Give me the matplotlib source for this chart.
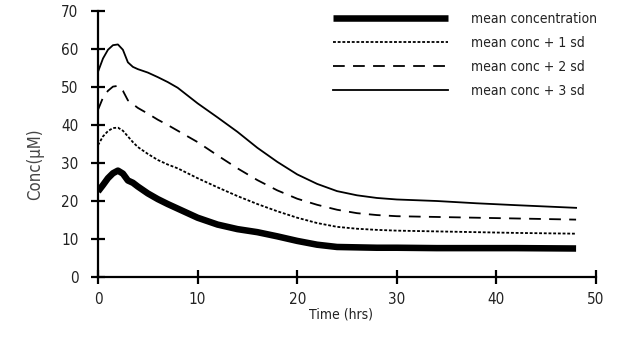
import matplotlib
matplotlib.use('Agg')
import matplotlib.pyplot as plt

# Data
time_hrs = [0, 0.5, 1, 1.5, 2, 2.5, 3, 3.5, 4, 5, 6, 7, 8, 10, 12, 14, 16, 18,
            20, 22, 24, 26, 28, 30, 34, 38, 42, 48]
mean_conc = [22.5, 24.2, 26.0, 27.3, 28.0, 27.2, 25.4, 24.8, 23.8, 22.0, 20.5,
             19.2, 18.0, 15.6, 13.8, 12.6, 11.8, 10.7, 9.5, 8.5, 7.9, 7.8, 7.7,
             7.7, 7.6, 7.6, 7.6, 7.5]
mean_1sd = [34.7, 37.0, 38.4, 39.2, 39.3, 38.5, 37.0, 35.5, 34.2, 32.4, 30.8,
            29.6, 28.6, 26.0, 23.6, 21.3, 19.2, 17.3, 15.6, 14.2, 13.2, 12.7,
            12.4, 12.2, 12.0, 11.8, 11.6, 11.4]
mean_2sd = [44.0, 47.2, 49.0, 50.1, 50.3, 49.0, 46.5, 45.5, 44.5, 43.0, 41.4,
            40.0, 38.5, 35.5, 32.0, 28.6, 25.5, 22.8, 20.6, 19.0, 17.7, 16.8,
            16.3, 16.0, 15.8, 15.6, 15.4, 15.1]
mean_3sd = [54.0, 57.5, 59.8, 61.0, 61.2, 59.8, 56.5, 55.3, 54.7, 53.8, 52.6,
            51.3, 49.8, 45.7, 42.0, 38.2, 34.0, 30.3, 27.0, 24.5, 22.6, 21.5,
            20.8, 20.4, 20.0, 19.4, 18.9, 18.2]

labels = ['mean concentration', 'mean conc + 1 sd', 'mean conc + 2 sd',
          'mean conc + 3 sd']
xticks = [0, 10, 20, 30, 40, 50]
yticks = [0, 10, 20, 30, 40, 50, 60, 70]

plt.rcParams['font.family'] = ['DejaVu Sans']
plt.rcParams['font.stretch'] = 'condensed'
txt_color = '#222222'
fs = 10

fig = plt.figure(figsize=(6.36, 3.38), dpi=100)
ax = fig.add_axes([98/636, 1-277/338, 498/636, 266/338])

ax.plot(time_hrs, mean_conc, color='black', linewidth=4.7, solid_capstyle='butt',
        label=labels[0])
ax.plot(time_hrs, mean_1sd, color='black', linewidth=1.3, linestyle=(0, (1.6, 1.0)),
        label=labels[1])
ax.plot(time_hrs, mean_2sd, color='black', linewidth=1.3, linestyle=(0, (6.5, 4.6)),
        label=labels[2])
ax.plot(time_hrs, mean_3sd, color='black', linewidth=1.3, label=labels[3])

ax.set_xlim(0, 50)
ax.set_ylim(0, 70)
ax.set_xticks(xticks)
ax.set_yticks(yticks)

# Axis styling
for s in ['top', 'right']:
    ax.spines[s].set_visible(False)
for s in ['left', 'bottom']:
    ax.spines[s].set_linewidth(1.6)
ax.tick_params(direction='inout', length=10, width=1.6, labelsize=fs + 1,
               labelcolor=txt_color)
ax.tick_params(axis='x', pad=6)
ax.tick_params(axis='y', pad=9)

fig.text(341/636, 1-314/338, 'Time (hrs)', ha='center', va='center',
         fontsize=fs, color=txt_color)
fig.text(35/636, 1-164/338, 'Conc(\u03bcM)', ha='center', va='center',
         rotation=90, fontsize=12, color='#444444')

leg = ax.legend(loc='upper left', bbox_to_anchor=(333/636, 1-12/338),
                bbox_transform=fig.transFigure, frameon=False, fontsize=fs,
                handlelength=8.3, handletextpad=1.6, labelspacing=0.72,
                borderpad=0, borderaxespad=0)
for t in leg.get_texts():
    t.set_color(txt_color)

plt.savefig('out.png', dpi=100)
